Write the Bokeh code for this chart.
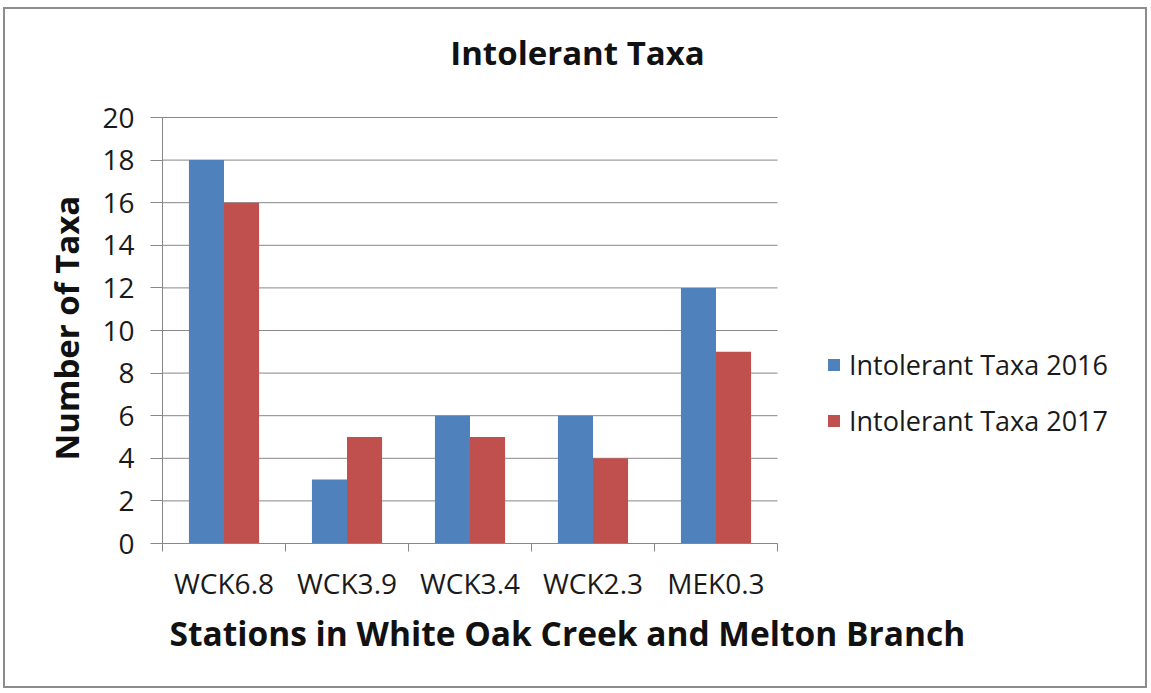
from bokeh.plotting import figure
from bokeh.layouts import column
from bokeh.models import Range1d, FixedTicker, Legend, LegendItem, Title, Label, ColumnDataSource
from bokeh.embed import file_html
from bokeh.resources import INLINE
from bokeh.transform import dodge

stations = ["WCK6.8", "WCK3.9", "WCK3.4", "WCK2.3", "MEK0.3"]
taxa_2016 = [18, 3, 6, 6, 12]
taxa_2017 = [16, 5, 5, 4, 9]
series_names = ["Intolerant Taxa 2016", "Intolerant Taxa 2017"]
y_ticks = [0, 2, 4, 6, 8, 10, 12, 14, 16, 18, 20]

FONT = "Open Sans"
BLUE = "#4F81BD"
RED = "#C0504D"
GRID = "#878787"
TXT = "#1a1a1a"

n = len(stations)
y_max = y_ticks[-1]
centers = [i + 0.5 for i in range(n)]
src = ColumnDataSource(dict(x=centers, a=taxa_2016, b=taxa_2017))
grid_src = ColumnDataSource(dict(y=y_ticks, x0=[0] * len(y_ticks), x1=[n] * len(y_ticks)))

W, H = 1140, 677
ML, MR, MT, MB = 157, 5, 0, 143
PLOT_W, PLOT_H = 615.0, 426.0          # pixel size of the category / value area
frame_w, frame_h = W - ML - MR, H - MT - MB
x_end = n * frame_w / PLOT_W
y_end = y_max * frame_h / PLOT_H

p = figure(width=W, height=H, output_backend="svg", toolbar_location=None,
           x_range=Range1d(0, x_end), y_range=Range1d(0, y_end),
           min_border_left=ML, min_border_right=MR, min_border_top=MT, min_border_bottom=MB)
p.outline_line_color = None
p.border_fill_color = "white"
p.xgrid.grid_line_color = None
p.ygrid.grid_line_color = None

p.segment(x0="x0", x1="x1", y0="y", y1="y", source=grid_src, line_color=GRID, line_width=1)

bw = 0.285
r1 = p.vbar(x=dodge("x", -bw / 2), top="a", width=bw, source=src, fill_color=BLUE, line_color=None)
r2 = p.vbar(x=dodge("x", bw / 2), top="b", width=bw, source=src, fill_color=RED, line_color=None)

# x axis
p.xaxis.bounds = (0, n)
p.xaxis.ticker = FixedTicker(ticks=centers, minor_ticks=list(range(n + 1)))
p.xaxis.major_label_overrides = {c: s for c, s in zip(centers, stations)}
p.xaxis.major_tick_out = 0
p.xaxis.major_tick_in = 0
p.xaxis.minor_tick_out = 8
p.xaxis.minor_tick_in = 0
p.xaxis.minor_tick_line_color = GRID
p.xaxis.axis_line_color = GRID
p.xaxis.major_label_standoff = 12
p.xaxis.major_label_text_font = FONT
p.xaxis.major_label_text_font_size = "28px"
p.xaxis.major_label_text_color = TXT

# y axis
p.yaxis.bounds = (0, y_max)
p.yaxis.ticker = FixedTicker(ticks=y_ticks)
p.yaxis.major_tick_out = 12
p.yaxis.major_tick_in = 0
p.yaxis.minor_tick_line_color = None
p.yaxis.major_tick_line_color = GRID
p.yaxis.axis_line_color = GRID
p.yaxis.major_label_standoff = 16
p.yaxis.major_label_text_font = FONT
p.yaxis.major_label_text_font_size = "28px"
p.yaxis.major_label_text_color = TXT

# texts
p.add_layout(Label(x=3.374, y=23.05, text="Intolerant Taxa", text_align="center", text_baseline="middle",
                   text_font=FONT, text_font_style="bold", text_font_size="33px", text_color="#111111"))
p.add_layout(Title(text="Stations in White Oak Creek and Melton Branch", align="left", offset=7,
                   standoff=6, text_font=FONT, text_font_style="bold", text_font_size="33.5px",
                   text_color="#111111"), "below")
p.add_layout(Title(text="Number of Taxa", align="left", offset=83, standoff=22,
                   text_font=FONT, text_font_style="bold", text_font_size="33px",
                   text_color="#111111"), "left")

legend = Legend(items=[LegendItem(label=series_names[0], renderers=[r1]),
                       LegendItem(label=series_names[1], renderers=[r2])],
                location=(664, 104), orientation="vertical")
legend.border_line_color = None
legend.background_fill_alpha = 0
legend.padding = 0
legend.margin = 0
legend.glyph_width = 15
legend.glyph_height = 15
legend.label_standoff = 8
legend.spacing = 19
legend.label_text_font = FONT
legend.label_text_font_size = "27px"
legend.label_text_color = TXT
p.add_layout(legend, "center")

layout = column(p, styles={"border": "2px solid #8c8c8c", "margin": "7px 0 0 3px"})

open("out.html", "w").write(file_html(layout, INLINE))
